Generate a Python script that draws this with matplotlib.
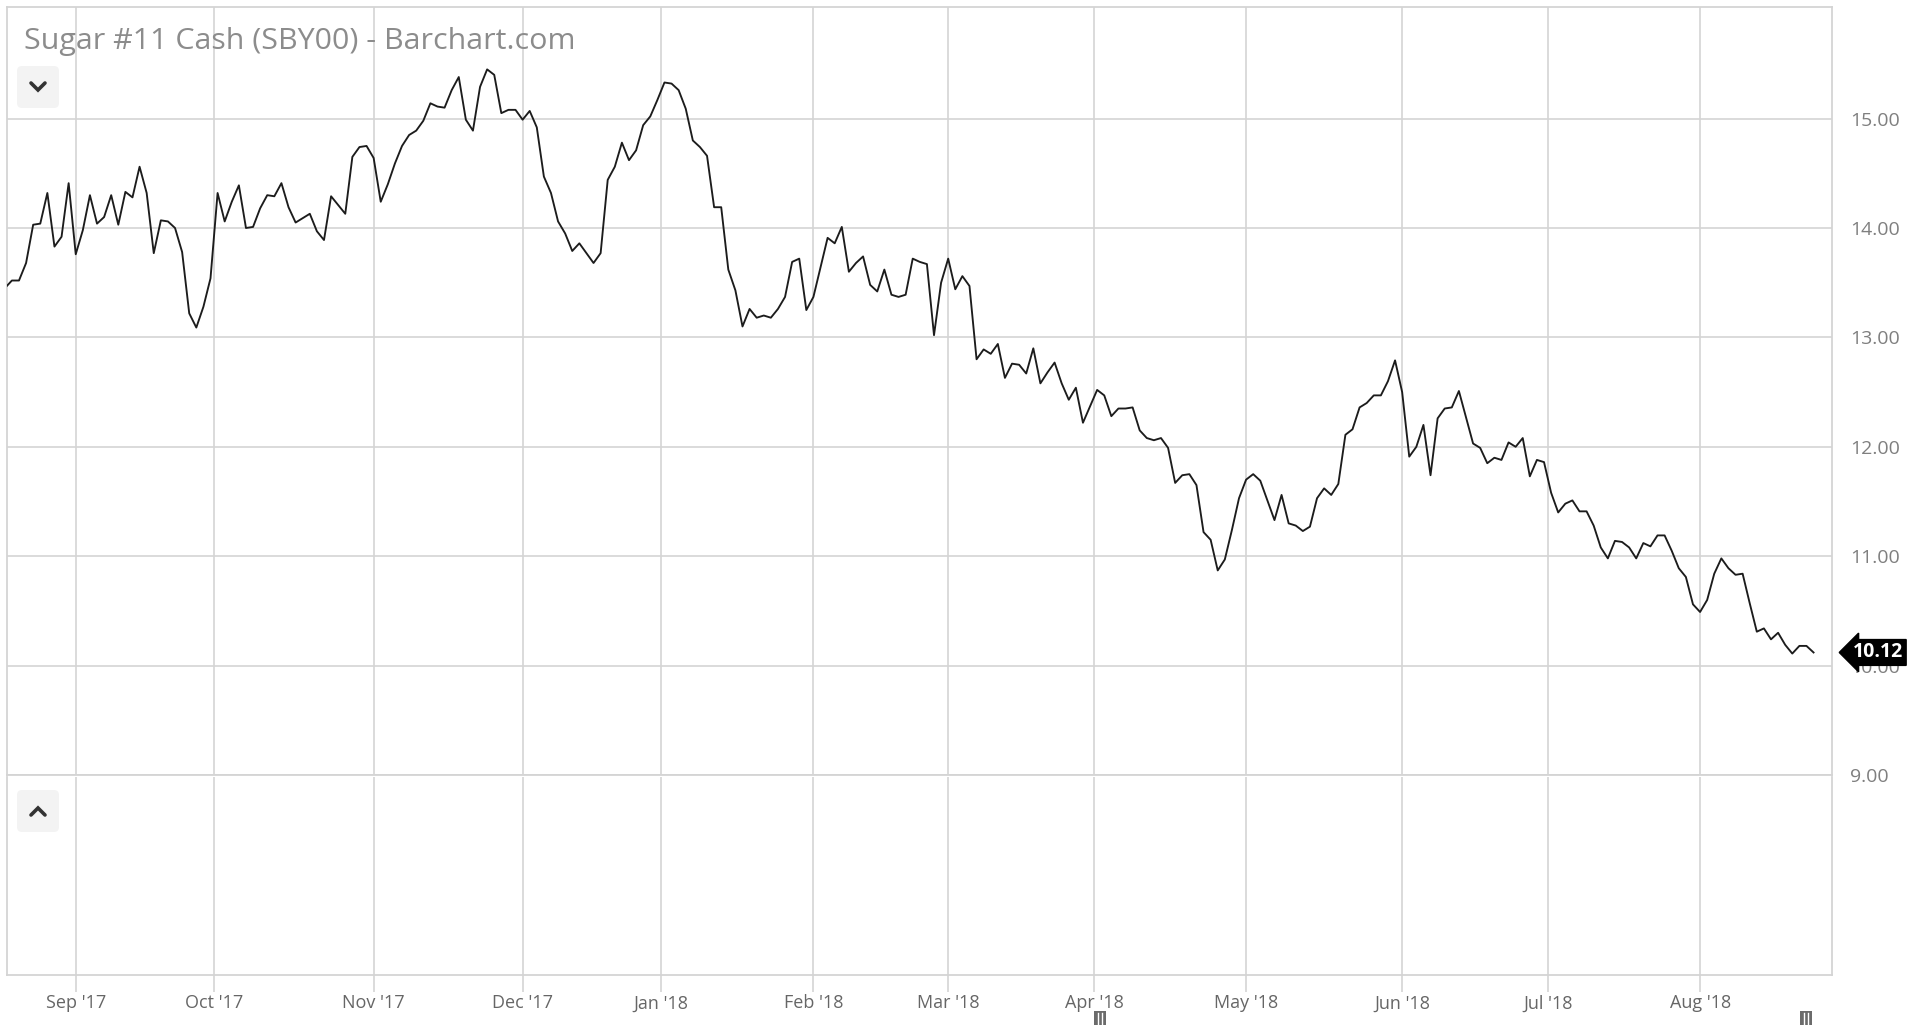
import numpy as np
import pandas as pd
import matplotlib
matplotlib.use("Agg")
import matplotlib.pyplot as plt
from matplotlib.patches import FancyBboxPatch, Rectangle
from matplotlib.lines import Line2D
from matplotlib.transforms import IdentityTransform

# Sugar #11 cash, daily closes (one list per month)
aug17 = [13.45, 13.52, 13.52, 13.68, 14.03, 14.04, 14.32, 13.83, 13.92, 14.41]
sep17 = [13.76, 13.98, 14.30, 14.04, 14.10, 14.30, 14.03, 14.33, 14.28, 14.56,
         14.32, 13.77, 14.07, 14.06, 14.00, 13.78, 13.22, 13.09, 13.28, 13.54]
oct17 = [14.32, 14.06, 14.24, 14.39, 14.00, 14.01, 14.18, 14.30, 14.29, 14.41, 14.19,
         14.05, 14.09, 14.13, 13.97, 13.89, 14.29, 14.21, 14.13, 14.65, 14.74, 14.75]
nov17 = [14.64, 14.24, 14.40, 14.59, 14.75, 14.85, 14.89, 14.98, 15.14, 15.11, 15.10,
         15.26, 15.38, 14.99, 14.89, 15.29, 15.45, 15.40, 15.05, 15.08, 15.08]
dec17 = [14.99, 15.07, 14.92, 14.47, 14.32, 14.06, 13.95, 13.79, 13.86, 13.77,
         13.68, 13.77, 14.44, 14.56, 14.78, 14.62, 14.71, 14.94, 15.02, 15.17]
jan18 = [15.33, 15.32, 15.26, 15.09, 14.80, 14.74, 14.66, 14.19, 14.19, 13.62, 13.43,
         13.10, 13.26, 13.18, 13.20, 13.18, 13.26, 13.37, 13.69, 13.72, 13.25]
feb18 = [13.37, 13.64, 13.91, 13.86, 14.01, 13.60, 13.68, 13.74, 13.48, 13.42,
         13.62, 13.39, 13.37, 13.39, 13.72, 13.69, 13.67, 13.02, 13.50]
mar18 = [13.72, 13.44, 13.56, 13.47, 12.80, 12.89, 12.85, 12.94, 12.63, 12.76, 12.75,
         12.67, 12.90, 12.58, 12.68, 12.77, 12.58, 12.43, 12.54, 12.22, 12.37]
apr18 = [12.52, 12.47, 12.28, 12.35, 12.35, 12.36, 12.15, 12.08, 12.06, 12.08, 11.99,
         11.67, 11.74, 11.75, 11.65, 11.22, 11.15, 10.87, 10.97, 11.24, 11.53]
may18 = [11.70, 11.75, 11.69, 11.51, 11.33, 11.56, 11.30, 11.28, 11.23, 11.27, 11.53,
         11.62, 11.56, 11.66, 12.11, 12.16, 12.36, 12.40, 12.47, 12.47, 12.60, 12.79]
jun18 = [12.50, 11.91, 12.00, 12.20, 11.74, 12.26, 12.35, 12.36, 12.51, 12.27, 12.03,
         11.99, 11.85, 11.90, 11.88, 12.04, 12.00, 12.08, 11.73, 11.88, 11.86]
jul18 = [11.58, 11.40, 11.48, 11.51, 11.41, 11.41, 11.28, 11.08, 10.98, 11.14, 11.13,
         11.08, 10.98, 11.12, 11.09, 11.19, 11.19, 11.05, 10.89, 10.81, 10.56]
aug18 = [10.49, 10.60, 10.84, 10.98, 10.89, 10.83, 10.84, 10.57, 10.31, 10.34, 10.24,
         10.30, 10.19, 10.11, 10.18, 10.18, 10.12]

prices = aug17 + sep17 + oct17 + nov17 + dec17 + jan18 + feb18 + mar18 + apr18 + may18 + jun18 + jul18 + aug18

# exchange holidays -> trading days only (chart x axis is trading-day index)
holidays = ["2017-09-04", "2017-11-23", "2017-12-25", "2018-01-01", "2018-01-15",
            "2018-02-19", "2018-03-30", "2018-05-28", "2018-07-04"]
dates = pd.bdate_range("2017-08-18", "2018-08-23")
dates = dates[~dates.isin(pd.to_datetime(holidays))]

y_ticks = [9, 10, 11, 12, 13, 14, 15]

idx = np.arange(len(prices))
s = pd.Series(prices, index=dates)

# month gridlines: first trading day of each month (a bit earlier if the 1st is not a trading day)
tick_pos = []
tick_lab = []
for per in pd.period_range("2017-09", "2018-08", freq="M"):
    first = np.where((dates.year == per.year) & (dates.month == per.month))[0][0]
    pos = first - 0.45 if dates[first].day != 1 else first
    tick_pos.append(pos)
    tick_lab.append(dates[first].strftime("%b '%y"))

W, H = 1920, 1025
fig = plt.figure(figsize=(W / 100, H / 100), dpi=100)
fig.patch.set_facecolor("white")

L, R = 7, 1832
ax = fig.add_axes([L / W, 1 - 775 / H, (R - L) / W, (775 - 7) / H])
ax2 = fig.add_axes([L / W, 1 - 975 / H, (R - L) / W, (975 - 777) / H], sharex=ax)

gridc = "#d4d4d4"
for a in (ax, ax2):
    for sp in a.spines.values():
        sp.set_color(gridc)
        sp.set_linewidth(1.3)
    a.set_facecolor("white")
ax2.spines["top"].set_visible(False)

ax.plot(idx, s.values, color="#1c1c1c", lw=1.35, zorder=3)

ax.set_xlim(0.31, 257.6)
ax.set_ylim(9, 9 + 768 / 109.4)
ax.set_yticks(y_ticks)
ax.set_yticklabels([f"{v:.2f}" for v in y_ticks])
ax.yaxis.tick_right()
ax.tick_params(axis="y", length=0, pad=13, labelsize=14, labelcolor="#7f7f7f")
for t in ax.get_yticklabels():
    t.set_fontfamily("Open Sans")
ax.tick_params(axis="x", bottom=False, labelbottom=False)
ax.set_xticks(tick_pos)
ax.grid(True, color=gridc, lw=1.2, zorder=0)

ax2.set_yticks([])
ax2.set_xticks(tick_pos)
ax2.set_xticklabels(tick_lab)
ax2.tick_params(axis="x", length=12, width=1.2, color=gridc, pad=2,
                labelsize=13, labelcolor="#666666")
for t in ax2.get_xticklabels():
    t.set_fontfamily(["Liberation Sans Narrow", "Open Sans"])
ax2.grid(True, axis="x", color=gridc, lw=1.2, zorder=0)

# last price tag
last = prices[-1]
ax.text(1.0115, last, f"{last:.2f}", transform=ax.get_yaxis_transform(),
        ha="left", va="center", color="white", fontsize=14, fontweight="bold",
        family="Open Sans", zorder=10, clip_on=False,
        bbox=dict(boxstyle="larrow,pad=0.15", fc="black", ec="black"))

fig.text(24 / W, 1 - 41 / H, "Sugar #11 Cash (SBY00) - Barchart.com",
         fontsize=21.9, color="#8c8c8c", family="Open Sans", va="center", ha="left")

# collapse / expand buttons
px = IdentityTransform()
for (bx, by, up) in [(17, 66, False), (17, 790, True)]:
    fig.patches.append(FancyBboxPatch((bx, H - by - 42), 42, 42,
                                      boxstyle="round,pad=0,rounding_size=5",
                                      fc="#f3f3f3", ec="none", transform=px))
    cx, cy = bx + 21, H - by - 21
    if up:
        xs, ys = [cx - 7, cx, cx + 7], [cy - 4, cy + 3, cy - 4]
    else:
        xs, ys = [cx - 7, cx, cx + 7], [cy + 4, cy - 3, cy + 4]
    fig.lines.append(Line2D(xs, ys, color="#333333", lw=2.6,
                            solid_capstyle="round", solid_joinstyle="miter", transform=px))

# little scroll handles under the axis
for hx in (1100, 1806):
    fig.patches.append(Rectangle((hx - 6, 0), 12, 14, fc="#6b6b6b", ec="none", transform=px))
    for dx in (-2, 2):
        fig.lines.append(Line2D([hx + dx, hx + dx], [1, 12], color="white", lw=1.0, transform=px))

fig.savefig("out.png", dpi=100, facecolor="white")
